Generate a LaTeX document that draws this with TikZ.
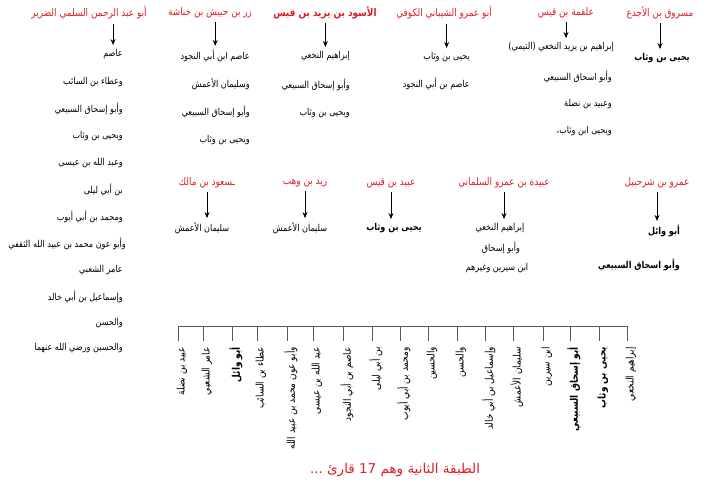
\documentclass[tikz,border=0pt]{standalone}
\usepackage{fontspec}
\newfontfamily\ar[Script=Arabic,FakeStretch=0.85]{DejaVu Sans}
\newfontfamily\arw[Script=Arabic]{DejaVu Sans}
\TeXXeTstate=1
\usetikzlibrary{arrows.meta}
\definecolor{hred}{RGB}{222,30,40}
\definecolor{lgray}{RGB}{90,90,90}
\newcommand{\rl}[1]{\beginR #1\endR}
\begin{document}
\begin{tikzpicture}[x=1pt,y=-1pt,
 hdr/.style={text=hred,font=\ar\fontsize{10.5}{11}\selectfont,inner sep=1pt},
 hdrb/.style={text=hred,font=\ar\bfseries\fontsize{10.5}{11}\selectfont,inner sep=1pt},
 txt/.style={font=\ar\fontsize{9.5}{10}\selectfont,inner sep=1pt},
 txtb/.style={font=\ar\bfseries\fontsize{9.5}{10}\selectfont,inner sep=1pt},
 rt/.style={anchor=east},
 arr/.style={-{Stealth[length=6pt,width=5pt]},line width=0.9pt,shorten <=3pt,shorten >=3pt},
 vl/.style={font=\ar\fontsize{10.5}{11}\selectfont,inner sep=1pt,rotate=90,anchor=east},
 vlb/.style={font=\ar\bfseries\fontsize{10.5}{11}\selectfont,inner sep=1pt,rotate=90,anchor=east},
 brk/.style={draw=lgray,line width=0.8pt},
]
\path[fill=white] (0,0) rectangle (706,489);
\useasboundingbox (0,0) rectangle (706,489);

% top headers
\node[hdr]  (h1) at (89,13)  {\rl{أبو عبد الرحمن السلمي الضرير}};
\node[hdr]  (h2) at (210,13) {\rl{زر بن حبيش بن خباشة}};
\node[hdrb] (h3) at (325,13) {\rl{الأسود بن يزيد بن قيس}};
\node[hdr]  (h4) at (444,13) {\rl{أبو عمرو الشيباني الكوفي}};
\node[hdr]  (h5) at (566,13) {\rl{علقمة بن قيس}};
\node[hdr]  (h6) at (660,13) {\rl{مسروق بن الأجدع}};

% column 1
\node[txt,rt] (a1)  at (124,54)  {\rl{عاصم}};
\node[txt,rt] (a2)  at (124,82)  {\rl{وعطاء بن السائب}};
\node[txt,rt] (a3)  at (124,109) {\rl{وأبو إسحاق السبيعي}};
\node[txt,rt] (a4)  at (124,136) {\rl{ويحيى بن وثاب}};
\node[txt,rt] (a5)  at (124,163) {\rl{وعبد الله بن عيسى}};
\node[txt,rt] (a6)  at (124,190) {\rl{بن أبي ليلى}};
\node[txt,rt] (a7)  at (124,217) {\rl{ومحمد بن أبي أيوب}};
\node[txt,rt] (a8)  at (127,244) {\rl{وأبو عون محمد بن عبيد الله الثقفي}};
\node[txt,rt] (a9)  at (124,270) {\rl{عامر الشعبي}};
\node[txt,rt] (a10) at (124,297) {\rl{وإسماعيل بن أبي خالد}};
\node[txt,rt] (a11) at (124,323) {\rl{والحسن}};
\node[txt,rt] (a12) at (124,348) {\rl{والحسين ورضي الله عنهما}};

% column 2
\node[txt,rt] (b1) at (251,56)  {\rl{عاصم ابن أبي النجود}};
\node[txt,rt] (b2) at (251,84)  {\rl{وسليمان الأعمش}};
\node[txt,rt] (b3) at (251,112) {\rl{وأبو إسحاق السبيعي}};
\node[txt,rt] (b4) at (251,140) {\rl{ويحيى بن وثاب}};

% column 3
\node[txt,rt] (c1) at (351,56)  {\rl{إبراهيم النخعي}};
\node[txt,rt] (c2) at (351,85)  {\rl{وأبو إسحاق السبيعي}};
\node[txt,rt] (c3) at (351,113) {\rl{ويحيى بن وثاب}};

% column 4
\node[txt,rt] (d1) at (471,57) {\rl{يحيى بن وثاب}};
\node[txt,rt] (d2) at (471,84) {\rl{عاصم بن أبي النجود}};

% column 5
\node[txt,rt] (e1) at (615,47)  {\rl{إبراهيم بن يزيد النخعي (التيمي)}};
\node[txt,rt] (e2) at (613,77)  {\rl{وأبو اسحاق السبيعي}};
\node[txt,rt] (e3) at (613,104) {\rl{وعبيد بن نضلة}};
\node[txt,rt] (e4) at (613,131) {\rl{ويحيى ابن وثاب،}};

% column 6
\node[txtb] (f1) at (662,58) {\rl{يحيى بن وثاب}};

% top arrows
\draw[arr] (h1.south -| a1) -- (a1.north);
\draw[arr] (h2.south -| b1) -- (b1.north);
\draw[arr] (h3.south -| c1) -- (c1.north);
\draw[arr] (h4.south -| d1) -- (d1.north);
\draw[arr] (h5.south) -- (h5.south |- e1.north);
\draw[arr] (h6.south) -- (h6.south |- f1.north);

% middle row headers
\node[hdr] (g1) at (207,183) {\rl{ـسعود بن مالك}};
\node[hdr] (g2) at (305,183) {\rl{زيد بن وهب}};
\node[hdr] (g3) at (391,183) {\rl{عبيد بن قيس}};
\node[hdr] (g4) at (504,183) {\rl{عبيدة بن عمرو السلماني}};
\node[hdr] (g5) at (657,183) {\rl{عمرو بن شرحبيل}};

\node[txt]  (k1) at (202,228) {\rl{سليمان الأعمش}};
\node[txt]  (k2) at (300,228) {\rl{سليمان الأعمش}};
\node[txtb] (k3) at (394,228) {\rl{يحيى بن وثاب}};
\node[txt]  (k4a) at (500,228) {\rl{إبراهيم النخعي}};
\node[txt]  (k4b) at (501,248) {\rl{وأبو إسحاق}};
\node[txt]  (k4c) at (497,268) {\rl{ابن سيرين وغيرهم}};
\node[txtb,rt] (k5a) at (681,231) {\rl{أبو وائل}};
\node[txtb,rt] (k5b) at (681,265) {\rl{وأبو اسحاق السبيعي}};

\draw[arr] (g1.south) -- (g1.south |- k1.north);
\draw[arr] (g2.south) -- (g2.south |- k2.north);
\draw[arr] (g3.south) -- (g3.south |- k3.north);
\draw[arr] (g4.south) -- (g4.south |- k4a.north);
\draw[arr] (g5.south) -- (g5.south |- k5a.north);

% bracket
\coordinate (bl) at (178,326);
\coordinate (br) at (627,326);
\draw[brk] (bl) -- (br);
\foreach \x in {178,203,232,257,287,313,343,372,400,428,457,485,513,543,570,599,627}
  \draw[brk] (\x,326) -- (\x,341);

\node[vl]  (l1)  at (182,346) {\rl{عبيد بن نضلة}};
\node[vl]  (l2)  at (207,346) {\rl{عامر الشعبي}};
\node[vlb] (l3)  at (236,346) {\rl{أبو وائل}};
\node[vl]  (l4)  at (261,346) {\rl{عطاء بن السائب}};
\node[vl]  (l5)  at (291,346) {\rl{وأبو عون محمد بن عبيد الله}};
\node[vl]  (l6)  at (317,346) {\rl{عبد الله بن عيسى}};
\node[vl]  (l7)  at (347,346) {\rl{عاصم بن أبي النجود}};
\node[vl]  (l8)  at (376,346) {\rl{بن أبي ليلى}};
\node[vl]  (l9)  at (404,346) {\rl{ومحمد بن أبي أيوب}};
\node[vl]  (l10) at (432,346) {\rl{والحسين}};
\node[vl]  (l11) at (461,346) {\rl{والحسن}};
\node[vl]  (l12) at (489,346) {\rl{وإسماعيل بن أبي خالد}};
\node[vl]  (l13) at (517,346) {\rl{سليمان الأعمش}};
\node[vl]  (l14) at (547,346) {\rl{ابن سيرين}};
\node[vlb] (l15) at (574,346) {\rl{أبو إسحاق السبيعي}};
\node[vlb] (l16) at (603,346) {\rl{يحيى بن وثاب}};
\node[vl]  (l17) at (631,346) {\rl{إبراهيم النخعي}};

% footer
\node[text=hred,font=\arw\fontsize{13.5}{14}\selectfont] (ft) at (395,470)
  {\rl{الطبقة الثانية وهم \beginL 17\endL{} قارئ ...}};
\end{tikzpicture}
\end{document}
